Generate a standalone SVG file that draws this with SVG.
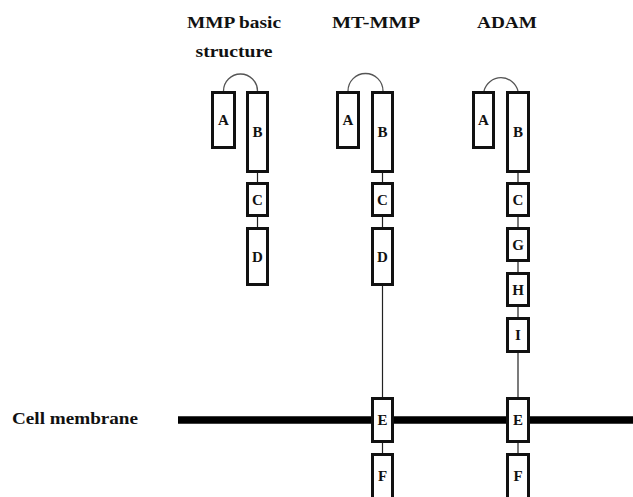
<svg xmlns="http://www.w3.org/2000/svg" width="633" height="497" viewBox="0 0 633 497" font-family="Liberation Serif, DejaVu Serif, Times New Roman, serif">
<style>
.box{fill:#fff;stroke:#111;stroke-width:3}
.lbl{font-weight:bold;font-size:15px;fill:#111;text-anchor:middle}
.title{font-weight:bold;font-size:17px;fill:#111;text-anchor:middle}
.conn{stroke:#222;stroke-width:1.2;fill:none}
.arc{stroke:#555;stroke-width:1.3;fill:none}
.mem{stroke:#000;stroke-width:7.5}
</style>
<rect width="633" height="497" fill="#fff"/>
<g id="titles">
<text class="title" x="234" y="28" textLength="94" lengthAdjust="spacingAndGlyphs">MMP basic</text>
<text class="title" x="234" y="57" textLength="77" lengthAdjust="spacingAndGlyphs">structure</text>
<text class="title" x="376" y="28" textLength="88" lengthAdjust="spacingAndGlyphs">MT-MMP</text>
<text class="title" x="507" y="28" textLength="60" lengthAdjust="spacingAndGlyphs">ADAM</text>
</g>
<g id="membrane">
<text class="title" x="75" y="424" textLength="126" lengthAdjust="spacingAndGlyphs">Cell membrane</text>
<line class="mem" x1="178" y1="420" x2="633" y2="420"/>
</g>
<g id="connectors">
<path class="arc" d="M223.5,91 A17,17 0 0 1 257.5,91"/>
<path class="arc" d="M348,91 A17.5,17.5 0 0 1 383,91"/>
<path class="arc" d="M484,91 A17.5,17.5 0 0 1 518,91"/>
<line class="conn" x1="257.5" y1="173" x2="257.5" y2="182"/>
<line class="conn" x1="257.5" y1="217" x2="257.5" y2="227"/>
<line class="conn" x1="382.5" y1="173" x2="382.5" y2="182"/>
<line class="conn" x1="382.5" y1="217" x2="382.5" y2="227"/>
<line class="conn" x1="382.5" y1="286" x2="382.5" y2="397"/>
<line class="conn" x1="382.5" y1="443" x2="382.5" y2="453"/>
<line class="conn" x1="518" y1="173" x2="518" y2="182"/>
<line class="conn" x1="518" y1="217" x2="518" y2="227"/>
<line class="conn" x1="518" y1="262" x2="518" y2="272"/>
<line class="conn" x1="518" y1="307" x2="518" y2="317"/>
<line class="conn" x1="518" y1="353" x2="518" y2="397"/>
<line class="conn" x1="518" y1="443" x2="518" y2="453"/>
</g>
<g id="mmp-A"><rect class="box" x="212.5" y="92.5" width="22" height="55"/><text class="lbl" x="223.5" y="125">A</text></g>
<g id="mmp-B"><rect class="box" x="247.5" y="92.5" width="20" height="79"/><text class="lbl" x="257.5" y="137">B</text></g>
<g id="mmp-C"><rect class="box" x="247.5" y="183.5" width="20" height="32"/><text class="lbl" x="257.5" y="205">C</text></g>
<g id="mmp-D"><rect class="box" x="247.5" y="228.5" width="20" height="56"/><text class="lbl" x="257.5" y="262">D</text></g>
<g id="mt-A"><rect class="box" x="337.5" y="92.5" width="21" height="55"/><text class="lbl" x="348" y="125">A</text></g>
<g id="mt-B"><rect class="box" x="372.5" y="92.5" width="20" height="79"/><text class="lbl" x="382.5" y="137">B</text></g>
<g id="mt-C"><rect class="box" x="372.5" y="183.5" width="20" height="32"/><text class="lbl" x="382.5" y="205">C</text></g>
<g id="mt-D"><rect class="box" x="372.5" y="228.5" width="20" height="56"/><text class="lbl" x="382.5" y="262">D</text></g>
<g id="mt-E"><rect class="box" x="372.5" y="398.5" width="20" height="43"/><text class="lbl" x="382.5" y="425">E</text></g>
<g id="mt-F"><rect class="box" x="372.5" y="454.5" width="20" height="60"/><text class="lbl" x="382.5" y="481">F</text></g>
<g id="adam-A"><rect class="box" x="473.5" y="92.5" width="20" height="55"/><text class="lbl" x="483.5" y="125">A</text></g>
<g id="adam-B"><rect class="box" x="507.5" y="92.5" width="21" height="79"/><text class="lbl" x="518" y="137">B</text></g>
<g id="adam-C"><rect class="box" x="507.5" y="183.5" width="21" height="32"/><text class="lbl" x="518" y="205">C</text></g>
<g id="adam-G"><rect class="box" x="507.5" y="228.5" width="21" height="32"/><text class="lbl" x="518" y="250">G</text></g>
<g id="adam-H"><rect class="box" x="507.5" y="273.5" width="21" height="32"/><text class="lbl" x="518" y="295">H</text></g>
<g id="adam-I"><rect class="box" x="507.5" y="318.5" width="21" height="33"/><text class="lbl" x="518" y="340">I</text></g>
<g id="adam-E"><rect class="box" x="507.5" y="398.5" width="21" height="43"/><text class="lbl" x="518" y="425">E</text></g>
<g id="adam-F"><rect class="box" x="507.5" y="454.5" width="21" height="60"/><text class="lbl" x="518" y="481">F</text></g>
</svg>
